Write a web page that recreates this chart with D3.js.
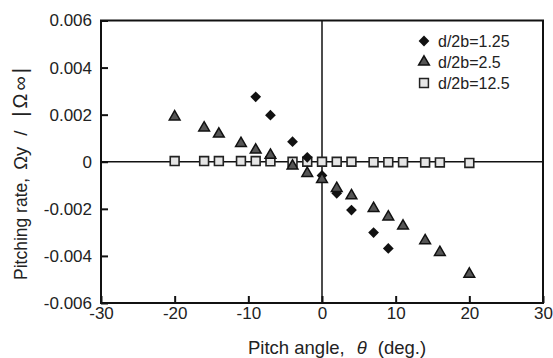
<!DOCTYPE html>
<html>
<head>
<meta charset="utf-8">
<script src="https://cdn.jsdelivr.net/npm/d3@7"></script>
<style>
  body { margin: 0; background: #fff; }
  svg { font-family: "Liberation Sans", Arial, sans-serif; }
</style>
</head>
<body>
<svg></svg>
<script>
const width = 553;
const height = 358;

// pitch angles (deg.)
const angleA = [-9, -7, -4, -2, 0, 2, 4, 7, 9];
const rateA = [0.00276, 0.00198, 0.00085, 0.00019, -0.00058, -0.00134, -0.00205, -0.00301, -0.00368];

const angleB = [-20, -16, -14, -11, -9, -7, -4, -2, 0, 2, 4, 7, 9, 11, 14, 16, 20];
const rateB = [0.00191, 0.00144, 0.00118, 0.00078, 0.0005, 0.00028, -0.00018, -0.00049, -0.00075,
               -0.00113, -0.00144, -0.00198, -0.00234, -0.00273, -0.00335, -0.00385, -0.00477];

const angleC = [-20, -16, -14, -11, -9, -7, -4, -2, 0, 2, 4, 7, 9, 11, 14, 16, 20];
const rateC = [0.00003, 0.00003, 0.00003, 0.00003, 0.00003, 0.00002, 0, 0, 0,
               0, 0, -0.00002, -0.00002, -0.00002, -0.00003, -0.00003, -0.00005];

const seriesNames = ["d/2b=1.25", "d/2b=2.5", "d/2b=12.5"];
const xTicks = [-30, -20, -10, 0, 10, 20, 30];
const yTicks = [-0.006, -0.004, -0.002, 0, 0.002, 0.004, 0.006];

const plotLeft = 101, plotRight = 543, plotTop = 20.5, plotBottom = 303;

const svg = d3.select('svg')
    .attr("width", width)
    .attr("height", height);

const xScale = d3.scaleLinear()
    .domain([-30, 30])
    .range([plotLeft, plotRight]);

const yScale = d3.scaleLinear()
    .domain([-0.006, 0.006])
    .range([plotBottom, plotTop]);

const fmtY = d => d === 0 ? "0" : d.toFixed(3);

// zero lines
svg.append("line")
  .attr("x1", plotLeft).attr("x2", plotRight)
  .attr("y1", yScale(0)).attr("y2", yScale(0))
  .attr("stroke", "#111").attr("stroke-width", 1.5);
svg.append("line")
  .attr("x1", xScale(0)).attr("x2", xScale(0))
  .attr("y1", plotTop).attr("y2", plotBottom)
  .attr("stroke", "#111").attr("stroke-width", 1.5);

// axes with inward ticks
const xAxis = d3.axisBottom(xScale)
    .tickValues(xTicks)
    .tickSizeInner(-7)
    .tickSizeOuter(0)
    .tickPadding(4)
    .tickFormat(d => String(d));

const yAxis = d3.axisLeft(yScale)
    .tickValues(yTicks)
    .tickSizeInner(-7)
    .tickSizeOuter(0)
    .tickPadding(9)
    .tickFormat(fmtY);

const gx = svg.append("g")
    .attr("transform", `translate(0,${plotBottom})`)
    .call(xAxis);
const gy = svg.append("g")
    .attr("transform", `translate(${plotLeft},0)`)
    .call(yAxis);

[gx, gy].forEach(g => {
  g.select(".domain").remove();
  g.selectAll(".tick line").attr("stroke", "#111").attr("stroke-width", 2);
  g.selectAll(".tick text")
    .attr("fill", "#222")
    .style("font-size", "17px")
    .style("font-family", "Liberation Sans, Arial, sans-serif");
});

// frame
svg.append("rect")
  .attr("x", plotLeft).attr("y", plotTop)
  .attr("width", plotRight - plotLeft).attr("height", plotBottom - plotTop)
  .attr("fill", "none")
  .attr("stroke", "#111")
  .attr("stroke-width", 2);

// series C squares
const sq = d3.symbol().type(d3.symbolSquare).size(78);
svg.append("g")
  .selectAll("path")
  .data(angleC.map((a, i) => [a, rateC[i]]))
  .enter()
  .append("path")
    .attr("d", sq)
    .attr("transform", d => `translate(${xScale(d[0])},${yScale(d[1])})`)
    .attr("fill", "#e6e6e6")
    .attr("stroke", "#222")
    .attr("stroke-width", 1.6);

// series A diamonds
const dm = d3.symbol().type(d3.symbolSquare).size(58);
svg.append("g")
  .selectAll("path")
  .data(angleA.map((a, i) => [a, rateA[i]]))
  .enter()
  .append("path")
    .attr("d", dm)
    .attr("transform", d => `translate(${xScale(d[0])},${yScale(d[1])}) rotate(45)`)
    .attr("fill", "#111");

// series B triangles
const tr = d3.symbol().type(d3.symbolTriangle).size(50);
svg.append("g")
  .selectAll("path")
  .data(angleB.map((a, i) => [a, rateB[i]]))
  .enter()
  .append("path")
    .attr("d", tr)
    .attr("transform", d => `translate(${xScale(d[0])},${yScale(d[1])})`)
    .attr("fill", "#555")
    .attr("stroke", "#111")
    .attr("stroke-width", 1.5);

// legend
const legend = svg.append("g").attr("transform", "translate(424,41)");
const legendSymbols = [
  {p: dm, fill: "#111", stroke: "none", rot: 45},
  {p: tr, fill: "#555", stroke: "#111", rot: 0},
  {p: sq, fill: "#e6e6e6", stroke: "#222", rot: 0}
];
seriesNames.forEach((name, i) => {
  const row = legend.append("g").attr("transform", `translate(0,${i * 21})`);
  row.append("path")
    .attr("d", legendSymbols[i].p)
    .attr("transform", `rotate(${legendSymbols[i].rot})`)
    .attr("fill", legendSymbols[i].fill)
    .attr("stroke", legendSymbols[i].stroke)
    .attr("stroke-width", 1.5);
  row.append("text")
    .attr("x", 14)
    .attr("dy", "0.35em")
    .style("font-size", "16px")
    .attr("fill", "#222")
    .text(name);
});

// axis titles
const xt = svg.append("text")
  .attr("x", 248)
  .attr("y", 354)
  .style("font-size", "18.5px")
  .attr("fill", "#222");
xt.append("tspan").text("Pitch angle,");
xt.append("tspan").attr("dx", 12).style("font-style", "italic").text("θ");
xt.append("tspan").attr("dx", 11).text("(deg.)");

const yt = svg.append("text")
  .attr("transform", "rotate(-90)")
  .attr("x", -280)
  .attr("y", 27)
  .style("font-size", "17.5px")
  .attr("fill", "#222");
yt.append("tspan").text("Pitching rate,");
yt.append("tspan").attr("dx", 8).style("font-size", "18.5px").text("Ωy");
yt.append("tspan").attr("dx", 11).style("font-size", "18.5px").text("/");
yt.append("tspan").attr("dx", 14).style("font-size", "20px")
  .style("letter-spacing", "3px").text("|Ω∞|");
</script>
</body>
</html>
